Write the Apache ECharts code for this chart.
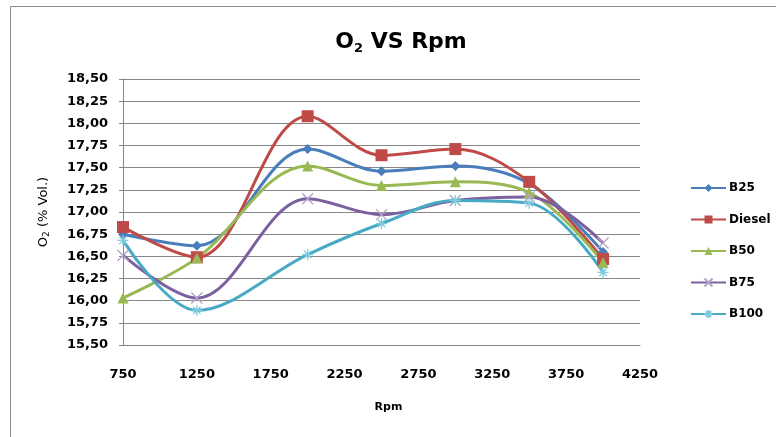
<!DOCTYPE html>
<html>
<head>
<meta charset="utf-8">
<script src="https://cdn.jsdelivr.net/npm/echarts@6/dist/echarts.min.js"></script>
<style>
  html, body { margin: 0; padding: 0; background: #fff; }
  #chart { width: 776px; height: 437px; }
</style>
</head>
<body>
<div id="chart"></div>
<script>
// Engine speed (rpm) at which O2 was measured
const rpm = [750, 1250, 2000, 2500, 3000, 3500, 4000];

// O2 concentration (% vol.) per fuel blend
const b25    = [16.75, 16.62, 17.71, 17.46, 17.52, 17.32, 16.55];
const diesel = [16.83, 16.49, 18.08, 17.64, 17.71, 17.34, 16.47];
const b50    = [16.03, 16.48, 17.52, 17.30, 17.34, 17.22, 16.43];
const b75    = [16.51, 16.03, 17.15, 16.97, 17.13, 17.17, 16.65];
const b100   = [16.68, 15.89, 16.52, 16.87, 17.13, 17.10, 16.32];

const xTicks = { min: 750, max: 4250, step: 500 };
const yTicks = { min: 15.5, max: 18.5, step: 0.25 };

const FONT = 'DejaVu Sans';

function pairs(values) {
  return rpm.map((r, i) => [r, values[i]]);
}

const crossPath = 'path://M0,0 L10,10 M10,0 L0,10';
const starPath = 'path://M5,0 L5,10 M0,5 L10,5 M1.6,1.6 L8.4,8.4 M8.4,1.6 L1.6,8.4';

function lineSeries(name, values, color, symbol, symbolSize, markColor, stroke) {
  return {
    name: name,
    type: 'line',
    data: pairs(values),
    smooth: 0.35,
    symbol: symbol,
    symbolSize: symbolSize,
    showAllSymbol: true,
    lineStyle: { color: color, width: 3 },
    itemStyle: stroke
      ? { color: markColor, borderColor: markColor, borderWidth: 1.3 }
      : { color: markColor, borderWidth: 0 },
    emphasis: { disabled: true },
    z: 3
  };
}

const chart = echarts.init(document.getElementById('chart'), null, { renderer: 'canvas' });

chart.setOption({
  animation: false,
  backgroundColor: '#ffffff',
  textStyle: { fontFamily: FONT },
  graphic: [
    {
      type: 'polyline',
      shape: { points: [[10.5, 440], [10.5, 6.5], [776, 6.5]] },
      style: { stroke: '#8c8c8c', lineWidth: 1, fill: null },
      silent: true
    }
  ],
  title: {
    text: '{b|O}{s|2}{b| VS Rpm}',
    left: 396,
    textAlign: 'center',
    top: 25,
    textStyle: {
      rich: {
        b: { fontFamily: FONT, fontWeight: 'bold', fontSize: 22, color: '#000' },
        s: { fontFamily: FONT, fontWeight: 'bold', fontSize: 13, color: '#000', padding: [12, 0, 0, 0] }
      }
    }
  },
  legend: {
    orient: 'vertical',
    left: 685,
    top: 177,
    itemWidth: 35,
    itemHeight: 10,
    itemGap: 19.5,
    textStyle: { fontFamily: FONT, fontWeight: 'bold', fontSize: 12, color: '#000', padding: [0, 0, 0, -2] },
    data: ['B25', 'Diesel', 'B50', 'B75', 'B100']
  },
  grid: { left: 123, right: 136, top: 79, bottom: 92, containLabel: false },
  xAxis: {
    type: 'value',
    min: xTicks.min,
    max: xTicks.max,
    interval: xTicks.step,
    name: 'Rpm',
    nameLocation: 'middle',
    nameGap: 57,
    nameTextStyle: { fontFamily: FONT, fontWeight: 'bold', fontSize: 11, color: '#000', padding: [0, 0, 0, 14] },
    axisLine: { show: true, lineStyle: { color: '#868686', width: 1 } },
    axisTick: { show: false },
    splitLine: { show: false },
    axisLabel: {
      margin: 23,
      fontFamily: FONT, fontWeight: 'bold', fontSize: 13, color: '#000',
      formatter: v => String(v)
    }
  },
  yAxis: {
    type: 'value',
    min: yTicks.min,
    max: yTicks.max,
    interval: yTicks.step,
    name: '{t|O}{s|2}{t| (% Vol.)}',
    nameLocation: 'middle',
    nameRotate: 90,
    nameGap: 72,
    nameTextStyle: {
      rich: {
        t: { fontFamily: FONT, fontSize: 13, color: '#000' },
        s: { fontFamily: FONT, fontSize: 9, color: '#000', padding: [6, 0, 0, 0] }
      }
    },
    axisLine: { show: true, lineStyle: { color: '#868686', width: 1 } },
    axisTick: { show: true, length: 4, lineStyle: { color: '#868686' } },
    splitLine: { show: true, lineStyle: { color: '#868686', width: 1 } },
    axisLabel: {
      margin: 15,
      fontFamily: FONT, fontWeight: 'bold', fontSize: 13, color: '#000',
      formatter: v => v.toFixed(2).replace('.', ',')
    }
  },
  series: [
    lineSeries('B25', b25, '#4a7ebb', 'diamond', 10, '#4a7ebb', false),
    lineSeries('Diesel', diesel, '#be4b48', 'rect', 12, '#be4b48', false),
    lineSeries('B50', b50, '#98b954', 'triangle', 11, '#98b954', false),
    lineSeries('B75', b75, '#7d60a0', crossPath, 11, '#b3a2c7', true),
    lineSeries('B100', b100, '#46aac5', starPath, 11, '#7fcadf', true)
  ]
});
</script>
</body>
</html>
